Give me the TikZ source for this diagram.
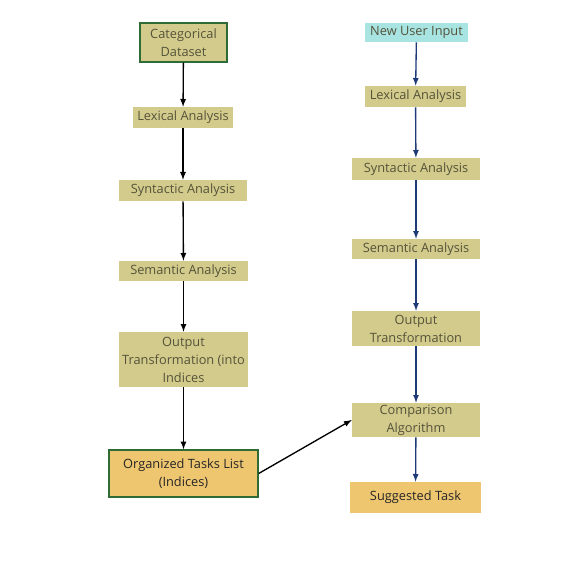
\documentclass[tikz,border=0pt]{standalone}
\usepackage{fontspec}
\setmainfont{Open Sans}
\usepackage{xcolor}
\usepackage{tikz}
\usetikzlibrary{positioning,arrows.meta}
\definecolor{khaki}{HTML}{D3CB8C}
\definecolor{gold}{HTML}{EEC670}
\definecolor{aqua}{HTML}{A8E4E2}
\definecolor{boxgreen}{HTML}{2F6B35}
\definecolor{txt}{HTML}{55533A}
\definecolor{navy}{HTML}{1E3A78}
\tikzset{
  stage/.style={
      fill=khaki,
      text=txt,
      align=center,
      inner sep=0pt,
      font=\fontsize{9.6}{13.5}\selectfont
    },
  framed/.style={
      stage,
      draw=boxgreen,
      line width=1pt
    },
  flow/.style={->, line width=1pt},
  blueflow/.style={->, line width=1pt, draw=navy}
}
\begin{document}
\begin{tikzpicture}[>=latex, x=0.75pt, y=-0.75pt]
\useasboundingbox (0,0) rectangle (573,573);
% left column
\node[framed, minimum width=87*0.75pt, minimum height=39*0.75pt]
  at (183.5,42.5) (cat) {Categorical\\Dataset};
\node[stage, minimum width=100*0.75pt, minimum height=21*0.75pt]
  at (183,117.5) (lex1) {Lexical Analysis};
\node[stage, minimum width=128*0.75pt, minimum height=21*0.75pt]
  at (183,190.5) (syn1) {Syntactic Analysis};
\node[stage, minimum width=129*0.75pt, minimum height=20*0.75pt]
  at (183.5,271) (sem1) {Semantic Analysis};
\node[stage, minimum width=129*0.75pt, minimum height=55*0.75pt]
  at (183.5,359.5) (out1) {Output\\Transformation (into\\Indices};
\node[framed, fill=gold, text=black!85, minimum width=149*0.75pt, minimum height=47*0.75pt]
  at (183.5,473.5) (org) {Organized Tasks List\\(Indices)};

% right column
\node[stage, fill=aqua, minimum width=103*0.75pt, minimum height=19*0.75pt]
  at (416.5,32.5) (inp) {New User Input};
\node[stage, minimum width=101*0.75pt, minimum height=21*0.75pt]
  at (415.5,96.5) (lex2) {Lexical Analysis};
\node[stage, minimum width=128*0.75pt, minimum height=22*0.75pt]
  at (416,169) (syn2) {Syntactic Analysis};
\node[stage, minimum width=128*0.75pt, minimum height=20*0.75pt]
  at (416,249) (sem2) {Semantic Analysis};
\node[stage, minimum width=128*0.75pt, minimum height=35*0.75pt]
  at (416,328.5) (out2) {Output\\Transformation};
\node[stage, minimum width=128*0.75pt, minimum height=34*0.75pt]
  at (416,420) (cmp) {Comparison\\Algorithm};
\node[stage, fill=gold, text=black!85, minimum width=131*0.75pt, minimum height=31*0.75pt]
  at (415.5,497.5) (sug) {Suggested Task};

%the arrows
\draw[flow] (cat) -- (lex1);
\draw[flow] (lex1) -- (syn1);
\draw[flow] (syn1) -- (sem1);
\draw[flow] (sem1) -- (out1);
\draw[flow] (out1) -- (org);
\draw[flow] (org.east) -- (cmp.west);
\draw[blueflow] (inp) -- (lex2);
\draw[blueflow] (lex2) -- (syn2);
\draw[blueflow] (syn2) -- (sem2);
\draw[blueflow] (sem2) -- (out2);
\draw[blueflow] (out2) -- (cmp);
\draw[blueflow] (cmp) -- (sug);
\end{tikzpicture}
\end{document}
